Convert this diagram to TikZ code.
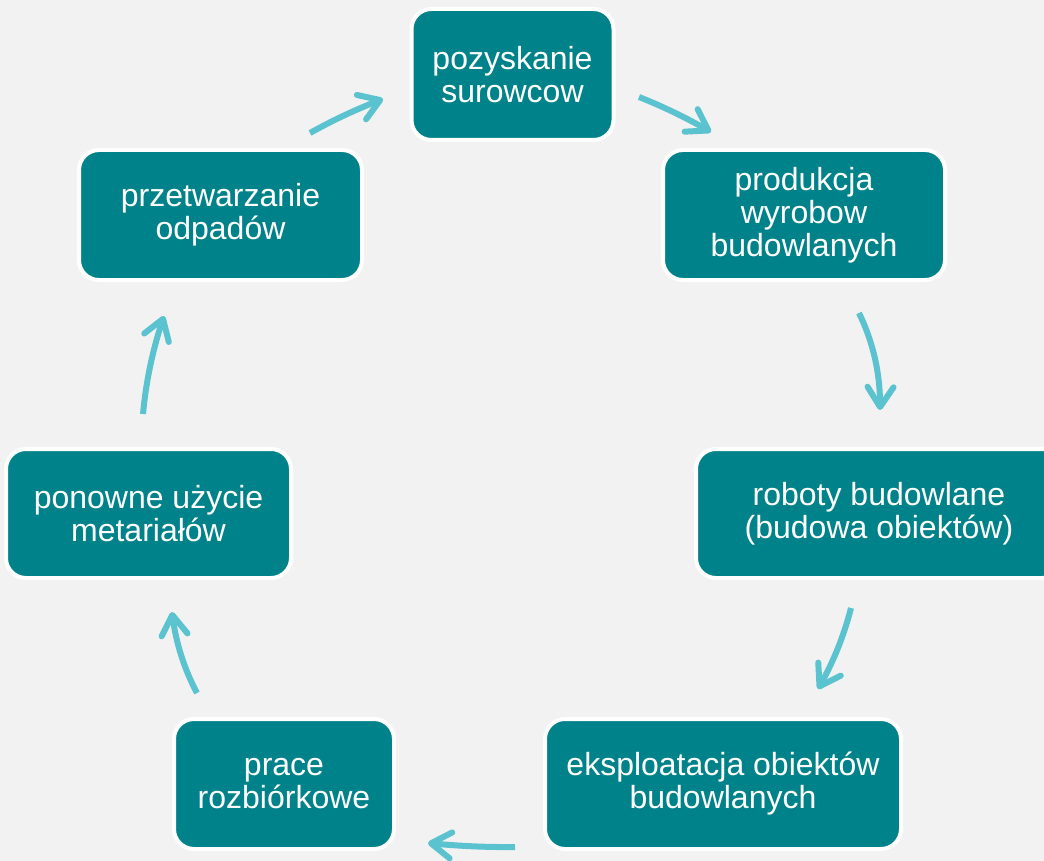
\documentclass[tikz,border=0pt]{standalone}
\usepackage{fontspec}
\setmainfont{Liberation Sans}
\usetikzlibrary{arrows.meta,bending,calc}
\definecolor{bgc}{RGB}{242,242,242}
\definecolor{boxc}{RGB}{0,130,138}
\definecolor{arrc}{RGB}{91,194,207}
\begin{document}
\begin{tikzpicture}[x=1pt,y=-1pt,
  stage/.style={draw=white, line width=4pt, fill=boxc, rounded corners=20pt,
    text=white, align=center, font=\fontsize{32}{33}\selectfont, inner sep=0pt},
  flow/.style={draw=arrc, line width=6pt,
    -{Straight Barb[length=20pt,width=26pt,line cap=round,line join=round]}}]
\useasboundingbox (0,0) rectangle (1044,861);
\clip (0,0) rectangle (1044,861);
\fill[bgc] (0,0) rectangle (1044,861);

\node[stage, minimum width=202pt, minimum height=131pt] (b1) at (512.5,74.5) {pozyskanie\\surowcow};
\node[stage, minimum width=282pt, minimum height=130pt] (b2) at (804,215) {produkcja\\wyrobow\\budowlanych};
\node[stage, minimum width=366pt, minimum height=129pt] (b3) at (879,513.5) {roboty budowlane\\(budowa obiektów)};
\node[stage, minimum width=356pt, minimum height=130pt] (b4) at (723,784) {eksploatacja obiektów\\budowlanych};
\node[stage, minimum width=220pt, minimum height=130pt] (b5) at (284,784) {prace\\rozbiórkowe};
\node[stage, minimum width=285pt, minimum height=129pt] (b6) at (148.5,513.5) {ponowne użycie\\metariałów};
\node[stage, minimum width=283pt, minimum height=130pt] (b7) at (220.5,215) {przetwarzanie\\odpadów};

\coordinate (a1s) at (310,133); \coordinate (a1e) at (383,99);  \coordinate (q1) at (345.2,113.3);
\coordinate (a2s) at (639,97);  \coordinate (a2e) at (711,132); \coordinate (q2) at (676.3,111.8);
\coordinate (a3s) at (859,313); \coordinate (a3e) at (880,410); \coordinate (q3) at (881.2,359);
\coordinate (a4s) at (851,608); \coordinate (a4e) at (818,689); \coordinate (q4) at (840.1,650.8);
\coordinate (a5s) at (515,847); \coordinate (a5e) at (428,843); \coordinate (q5) at (471.4,847.5);
\coordinate (a6s) at (197,693); \coordinate (a6e) at (172,612); \coordinate (q6) at (176.8,654.9);
\coordinate (a7s) at (143,414); \coordinate (a7e) at (164,316); \coordinate (q7) at (147.6,363.7);

\foreach \i in {1,...,7}{
  \draw[flow] (a\i s) .. controls ($(a\i s)!0.667!(q\i)$) and ($(a\i e)!0.667!(q\i)$) .. (a\i e);
}
\end{tikzpicture}
\end{document}
